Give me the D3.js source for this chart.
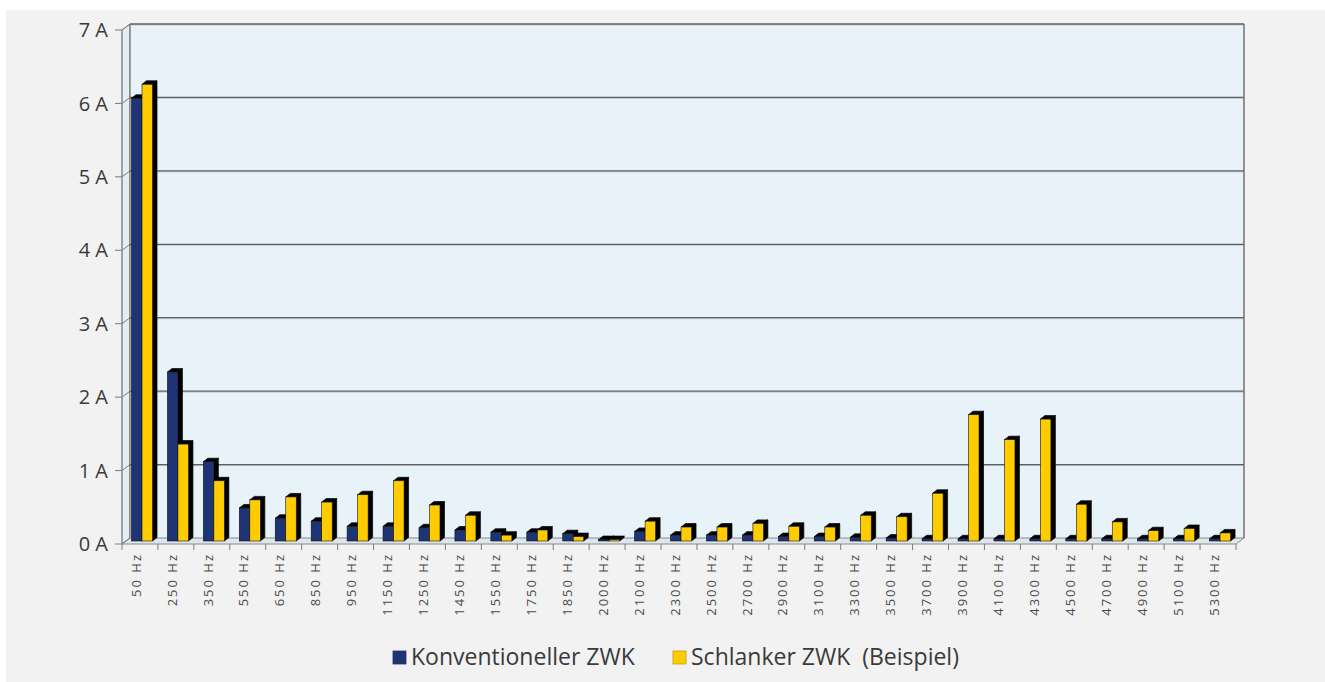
<!DOCTYPE html>
<html>
<head>
<meta charset="utf-8">
<script src="https://cdn.jsdelivr.net/npm/d3@7"></script>
<style>
  html, body { margin: 0; padding: 0; background: #ffffff; }
  svg { display: block; }
  text { font-family: "Open Sans", "Noto Sans", sans-serif; }
</style>
</head>
<body>
<svg id="chart" width="1325" height="682"></svg>
<script>
// ---- data ----
const categories = ["50 Hz","250 Hz","350 Hz","550 Hz","650 Hz","850 Hz","950 Hz","1150 Hz","1250 Hz","1450 Hz",
  "1550 Hz","1750 Hz","1850 Hz","2000 Hz","2100 Hz","2300 Hz","2500 Hz","2700 Hz","2900 Hz","3100 Hz",
  "3300 Hz","3500 Hz","3700 Hz","3900 Hz","4100 Hz","4300 Hz","4500 Hz","4700 Hz","4900 Hz","5100 Hz","5300 Hz"];
const konventionell = [6.03,2.30,1.08,0.45,0.31,0.27,0.20,0.20,0.18,0.15,
  0.12,0.12,0.10,0.02,0.13,0.08,0.08,0.08,0.06,0.06,
  0.05,0.04,0.03,0.03,0.03,0.03,0.03,0.03,0.03,0.03,0.03];
const schlank = [6.22,1.32,0.82,0.56,0.60,0.53,0.63,0.82,0.49,0.35,
  0.08,0.15,0.06,0.02,0.27,0.19,0.19,0.24,0.20,0.19,
  0.35,0.33,0.65,1.72,1.38,1.66,0.50,0.26,0.14,0.17,0.11];
const seriesNames = ["Konventioneller ZWK", "Schlanker ZWK  (Beispiel)"];
const seriesColors = ["#1f3474", "#ffcc00"];
const yTicks = [0,1,2,3,4,5,6,7];
const yTickLabels = ["0 A","1 A","2 A","3 A","4 A","5 A","6 A","7 A"];

// ---- layout ----
const svg = d3.select("#chart");
const DX = 8, DY = -6;            // depth of the 3D walls
const BDX = 4.5, BDY = -3.5;      // depth of each bar
const x = d3.scaleBand().domain(categories).range([122, 1236]).padding(0);
const xs = d3.scaleBand().domain([0,1]).range([9.5, 30.5]).padding(0);
const y = d3.scaleLinear().domain([0,7]).range([544, 30]);
const yBar = d3.scaleLinear().domain([0,7]).range([541, 27]);

// panel background
svg.append("rect").attr("x", 6).attr("y", 10).attr("width", 1319).attr("height", 672).attr("fill", "#f2f2f2");

const x0 = x.range()[0], x1 = x.range()[1];
// side wall
svg.append("polygon")
  .attr("points", [[x0, y(0)], [x0, y(7)], [x0 + DX, y(7) + DY], [x0 + DX, y(0) + DY]].join(" "))
  .attr("fill", "#e3edf4").attr("stroke", "#9a9a9a").attr("stroke-width", 1);
// back wall
svg.append("rect")
  .attr("x", x0 + DX).attr("y", y(7) + DY)
  .attr("width", x1 - x0).attr("height", y(0) - y(7))
  .attr("fill", "#e8f2f9");
// floor
svg.append("polygon")
  .attr("points", [[x0, y(0)], [x0 + DX, y(0) + DY], [x1 + DX, y(0) + DY], [x1, y(0)]].join(" "))
  .attr("fill", "#dde6ed").attr("stroke", "#8a8a8a").attr("stroke-width", 1);

// gridlines (back wall + side wall)
const grid = svg.append("g");
yTicks.filter(v => v > 0).forEach(v => {
  grid.append("line")
    .attr("x1", x0 + DX).attr("x2", x1 + DX)
    .attr("y1", y(v) + DY + 1).attr("y2", y(v) + DY + 1)
    .attr("stroke", "#c2c8cc").attr("stroke-width", 1);
  grid.append("line")
    .attr("x1", x0 + DX).attr("x2", x1 + DX)
    .attr("y1", y(v) + DY).attr("y2", y(v) + DY)
    .attr("stroke", "#5e5e5e").attr("stroke-width", 1.3);
});
yTicks.forEach(v => {
  grid.append("polyline")
    .attr("points", [[x0 - 7, y(v)], [x0, y(v)], [x0 + DX, y(v) + DY]].join(" "))
    .attr("fill", "none").attr("stroke", "#7a7a7a").attr("stroke-width", 1);
});
// back wall frame edges
svg.append("line").attr("x1", x0 + DX).attr("x2", x0 + DX).attr("y1", y(7) + DY).attr("y2", y(0) + DY)
  .attr("stroke", "#6a6a6a").attr("stroke-width", 1.2);
svg.append("line").attr("x1", x1 + DX).attr("x2", x1 + DX).attr("y1", y(7) + DY).attr("y2", y(0) + DY)
  .attr("stroke", "#6a6a6a").attr("stroke-width", 1.4);
svg.append("line").attr("x1", x0).attr("x2", x0).attr("y1", y(7)).attr("y2", y(0))
  .attr("stroke", "#8a8a8a").attr("stroke-width", 1.2);

// y axis labels
svg.append("g").selectAll("text").data(yTicks).join("text")
  .attr("x", 108).attr("y", d => y(d)).attr("dy", "0.36em")
  .attr("text-anchor", "end").attr("font-size", 20).attr("fill", "#3a3a3a")
  .text((d, i) => yTickLabels[i]);

// x ticks
svg.append("g").selectAll("line").data(categories.concat(["__end"])).join("line")
  .attr("x1", (d, i) => x0 + i * x.bandwidth()).attr("x2", (d, i) => x0 + i * x.bandwidth())
  .attr("y1", y(0)).attr("y2", y(0) + 6)
  .attr("stroke", "#7a7a7a").attr("stroke-width", 1);

// bars
const barsG = svg.append("g");
const series = [konventionell, schlank];
categories.forEach((c, ci) => {
  series.forEach((vals, si) => {
    const v = vals[ci];
    const bx0 = x(c) + xs(si), bx1 = bx0 + xs.bandwidth();
    const yt = yBar(v), yb = yBar(0);
    const g = barsG.append("g");
    g.append("polygon")
      .attr("points", [[bx1, yt], [bx1 + BDX, yt + BDY], [bx1 + BDX, yb + BDY], [bx1, yb]].join(" "))
      .attr("fill", "#000").attr("stroke", "#000").attr("stroke-width", 0.7);
    g.append("polygon")
      .attr("points", [[bx0, yt], [bx0 + BDX, yt + BDY], [bx1 + BDX, yt + BDY], [bx1, yt]].join(" "))
      .attr("fill", "#000").attr("stroke", "#000").attr("stroke-width", 0.7);
    g.append("rect")
      .attr("x", bx0).attr("y", yt).attr("width", bx1 - bx0).attr("height", Math.max(0, yb - yt))
      .attr("fill", seriesColors[si]).attr("stroke", "#111").attr("stroke-width", 0.6);
  });
});

// x labels
svg.append("g").selectAll("text").data(categories).join("text")
  .attr("transform", d => `translate(${x(d) + x.bandwidth() / 2 - 4},553) rotate(-90)`)
  .attr("dy", "0.36em")
  .attr("text-anchor", "end").attr("font-size", 13).attr("letter-spacing", 2)
  .attr("fill", "#4a4a4a")
  .text(d => d);

// legend
const legend = svg.append("g");
const legendX = [393, 673];
seriesNames.forEach((n, i) => {
  legend.append("rect").attr("x", legendX[i]).attr("y", 651).attr("width", 13).attr("height", 13)
    .attr("fill", seriesColors[i]).attr("stroke", i === 0 ? "#1f3474" : "#c9a100").attr("stroke-width", 0.8);
  legend.append("text").attr("x", legendX[i] + 18).attr("y", 665)
    .attr("font-size", 23).attr("fill", "#3a3a3a")
    .style("white-space", "pre")
    .text(n);
});
</script>
</body>
</html>
